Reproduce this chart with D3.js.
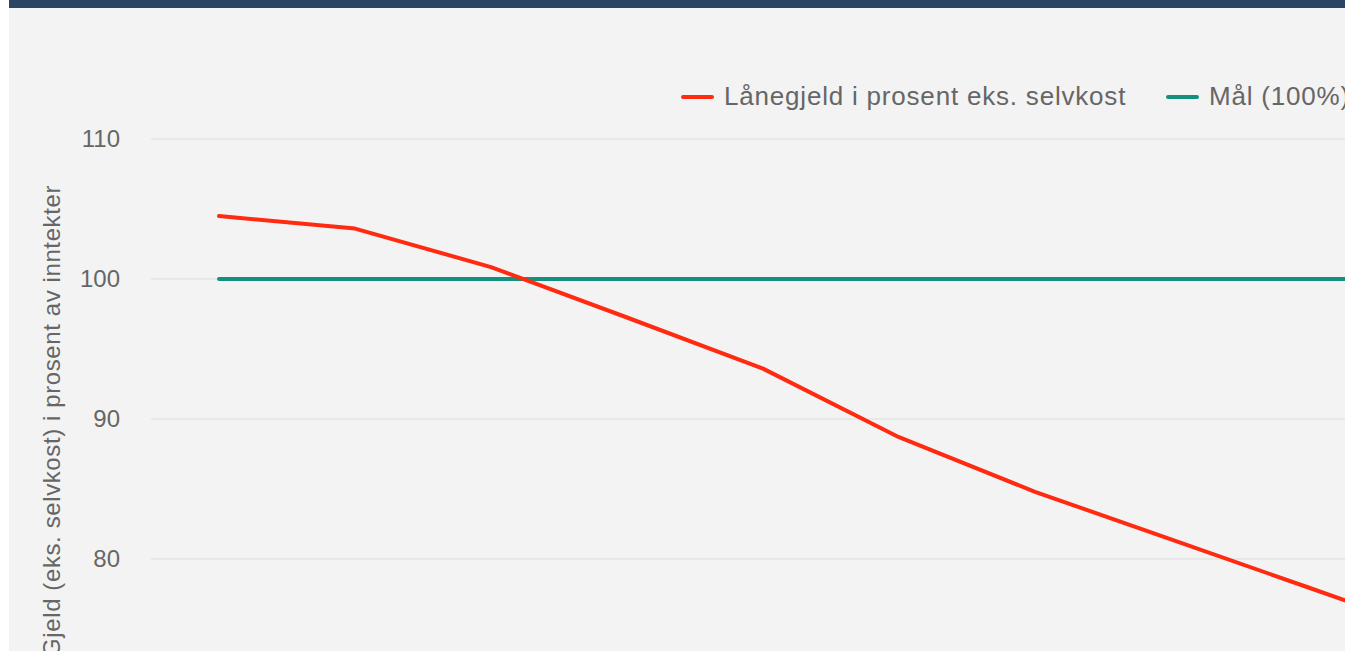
<!DOCTYPE html>
<html>
<head>
<meta charset="utf-8">
<script src="https://cdn.jsdelivr.net/npm/d3@7"></script>
<style>
  html, body { margin: 0; padding: 0; background: #ffffff; overflow: hidden; }
  svg { display: block; }
  text { font-family: "Liberation Sans", Arial, sans-serif; }
</style>
</head>
<body>
<svg id="chart" width="1345" height="651"></svg>
<script>
// Data
const years = ["2024", "2025", "2026", "2027", "2028", "2029", "2030", "2031", "2032", "2033"];
const debtShare = [104.5, 103.6, 100.85, 97.25, 93.6, 88.7, 84.8, 81.4, 78.0, 74.6];
const target = [100, 100, 100, 100, 100, 100, 100, 100, 100, 100];
const yTicks = [60, 70, 80, 90, 100, 110];
const seriesNames = ["Lånegjeld i prosent eks. selvkost", "Mål (100%)"];
const yTitle = "Gjeld (eks. selvkost) i prosent av inntekter";

const colors = ["#ff2a10", "#13917e"];

const svg = d3.select("#chart");
const W = 1345, H = 651;

// container background
svg.append("rect").attr("x", 9).attr("y", 0).attr("width", W - 9).attr("height", H).attr("fill", "#f3f3f3");
svg.append("rect").attr("x", 9).attr("y", 0).attr("width", W - 9).attr("height", 8).attr("fill", "#2c4463");

const plotLeft = 151, plotRight = 1511;
const x = d3.scalePoint().domain(years).range([plotLeft, plotRight]).padding(0.5);
const y = d3.scaleLinear().domain([60, 110]).range([839, 139]);

// gridlines
const grid = svg.append("g");
grid.selectAll("line").data(yTicks).join("line")
  .attr("x1", plotLeft).attr("x2", plotRight)
  .attr("y1", d => y(d)).attr("y2", d => y(d))
  .attr("stroke", "#e4e4e4").attr("stroke-width", 1.5);

// y axis labels
const yAxis = d3.axisLeft(y).tickValues(yTicks).tickSize(0).tickPadding(0);
const gy = svg.append("g").attr("transform", "translate(120,0)").call(yAxis);
gy.select(".domain").remove();
gy.selectAll("text")
  .attr("font-family", "Liberation Sans, Arial, sans-serif")
  .attr("font-size", 24).attr("fill", "#666666");

// y title
svg.append("text")
  .attr("transform", "translate(60,185) rotate(-90)")
  .attr("text-anchor", "end")
  .attr("font-size", 24).attr("letter-spacing", 0.6).attr("fill", "#666666")
  .text(yTitle);

// lines
const line = d3.line().x((d, i) => x(years[i])).y(d => y(d));
svg.append("path").datum(target).attr("d", line)
  .attr("fill", "none").attr("stroke", colors[1]).attr("stroke-width", 4).attr("stroke-linecap", "round");
svg.append("path").datum(debtShare).attr("d", line)
  .attr("fill", "none").attr("stroke", colors[0]).attr("stroke-width", 4)
  .attr("stroke-linecap", "round").attr("stroke-linejoin", "round");

// legend
const legendX = [683, 1168];
seriesNames.forEach((name, i) => {
  const g = svg.append("g").attr("transform", `translate(${legendX[i]},97)`);
  g.append("line").attr("x1", 0).attr("x2", 29).attr("y1", 0).attr("y2", 0)
    .attr("stroke", colors[i]).attr("stroke-width", 4).attr("stroke-linecap", "round");
  g.append("text").attr("x", 41).attr("y", 8)
    .attr("font-size", 26).attr("letter-spacing", 0.8).attr("fill", "#666666").text(name);
});
</script>
</body>
</html>
